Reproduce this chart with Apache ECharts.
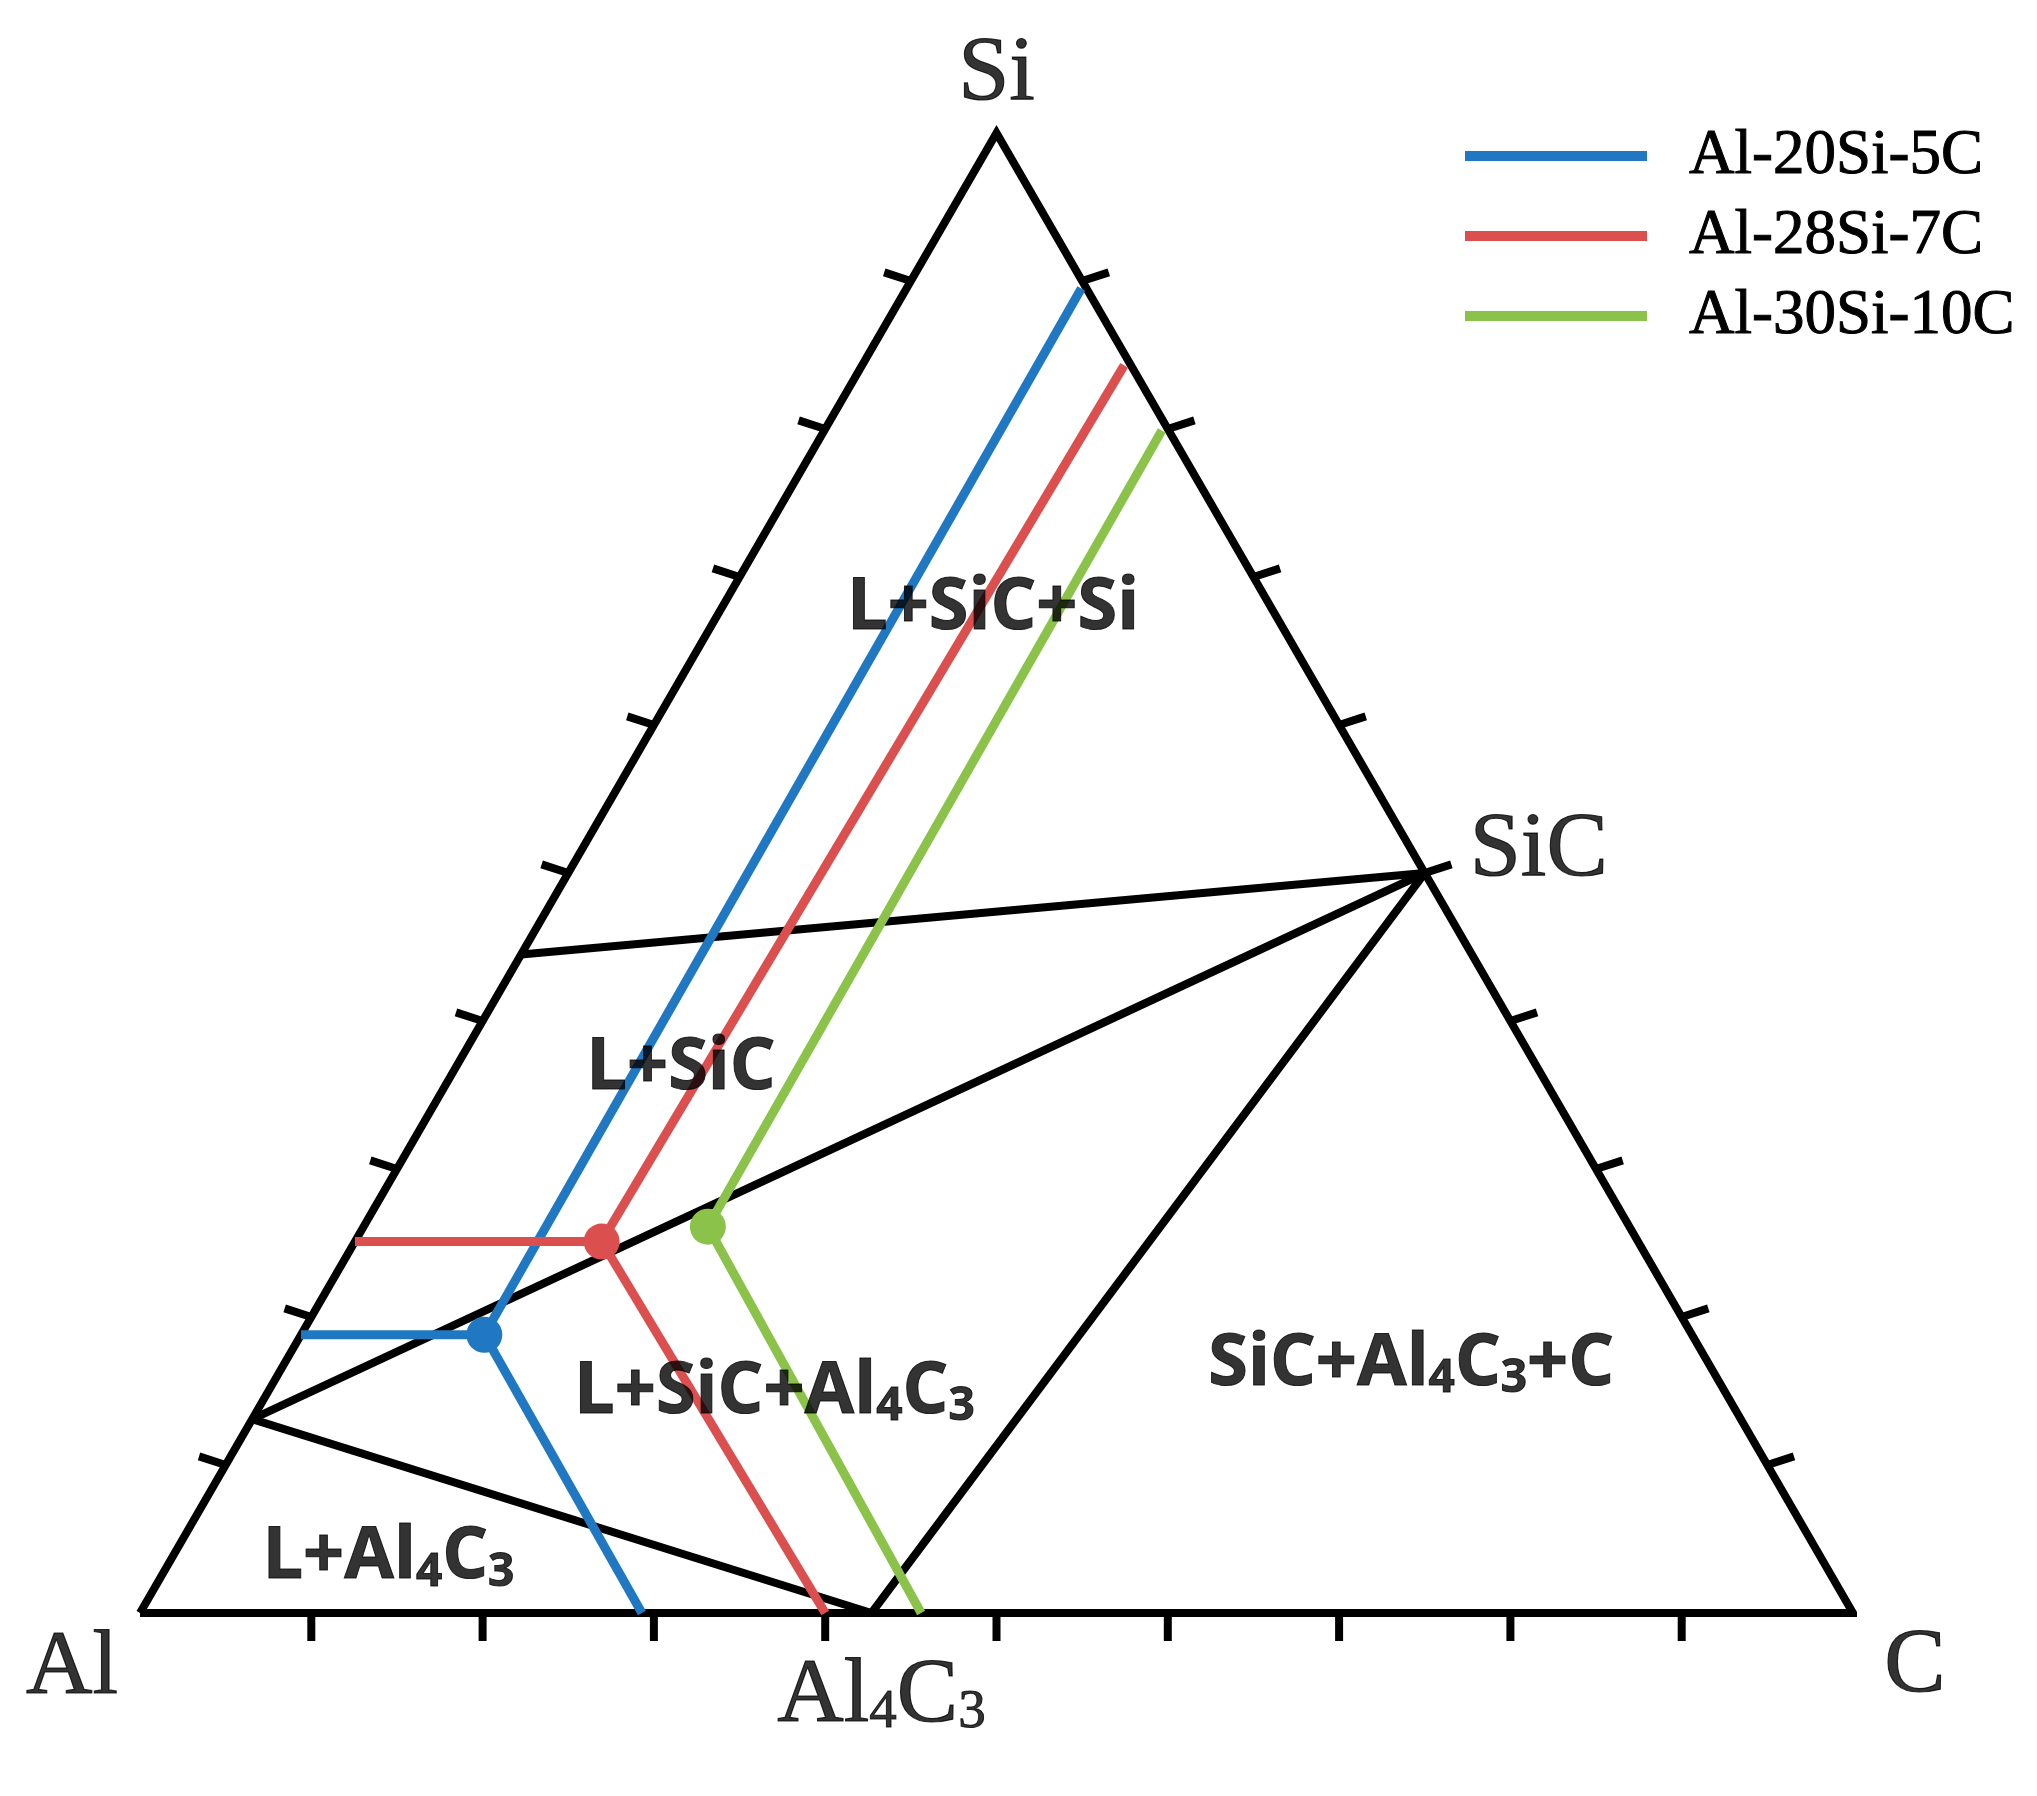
<!DOCTYPE html>
<html>
<head>
<meta charset="utf-8">
<title>Al-Si-C</title>
<script src="https://cdn.jsdelivr.net/npm/echarts@6/dist/echarts.min.js"></script>
<style>
  html, body { margin: 0; padding: 0; background: #fff; }
  #chart { width: 2037px; height: 1796px; }
</style>
</head>
<body>
<div id="chart"></div>
<script>
// every composition is [C, Si] as mole fraction, Al = 1 - C - Si
const vertexNames = ['Al', 'C', 'Si'];
const vertexComps = [[0, 0], [1, 0], [0, 1]];
const compoundNames = ['SiC', 'Al4C3'];
const compoundComps = [[0.5, 0.5], [0.427, 0]];

// phase boundary lines
const tieLines = [
  [[0, 0.445], [0.5, 0.5]],
  [[0, 0.131], [0.5, 0.5]],
  [[0, 0.131], [0.427, 0]],
  [[0.5, 0.5], [0.427, 0]]
];

const alloyNames = ['Al-20Si-5C', 'Al-28Si-7C', 'Al-30Si-10C'];
const alloyColors = ['#1f78c1', '#dc4f4f', '#8bc34a'];
// Si-C edge -> point on the L+SiC / L+SiC+Al4C3 boundary -> Al-C edge
const alloyPaths = [
  [[0.102, 0.895], [0.107, 0.188], [0.293, 0]],
  [[0.153, 0.843], [0.144, 0.251], [0.400, 0]],
  [[0.197, 0.799], [0.201, 0.261], [0.456, 0]]
];
// branch from that point back to the Al-Si edge
const alloyBranches = [
  [[0.107, 0.188], [0, 0.188]],
  [[0.144, 0.251], [0, 0.251]],
  null
];

const regionNames = ['L+SiC+Si', 'L+SiC', 'L+SiC+Al4C3', 'L+Al4C3', 'SiC+Al4C3+C'];
const regionAnchors = [[0.1585, 0.679], [0.132, 0.3676], [0.2957, 0.1493], [0.1264, 0.0372], [0.658, 0.1682]];

const tickFractions = [0.1, 0.2, 0.3, 0.4, 0.5, 0.6, 0.7, 0.8, 0.9];

// ---- helpers ----
const H = Math.sqrt(3) / 2;
const toXY = c => [c[0] + c[1] / 2, c[1] * H];

// digits become small (Al4C3)
function chem(name) {
  return name.split(/(\d)/).filter(Boolean)
    .map(t => /\d/.test(t) ? '{s|' + t + '}' : '{b|' + t + '}').join('');
}

const serif = 'Liberation Serif';
const sans = 'Open Sans';

// small digits sit on the baseline: line box kept tight so 'bottom' lines up
const vertexRich = {
  b: { fontFamily: serif, fontSize: 92, lineHeight: 86, color: '#000', textBorderColor: '#000', textBorderWidth: 1.2 },
  s: { fontFamily: serif, fontSize: 55, color: '#000', verticalAlign: 'bottom', textBorderColor: '#000', textBorderWidth: 1 }
};
const regionRich = {
  b: { fontFamily: sans, fontWeight: 'bold', fontSize: 72, lineHeight: 76, color: '#000', textBorderColor: '#000', textBorderWidth: 1 },
  s: { fontFamily: sans, fontWeight: 'bold', fontSize: 46, color: '#000', verticalAlign: 'bottom', textBorderColor: '#000', textBorderWidth: 1 }
};

// label offsets (px) from the point they name
const labelOffsets = {
  Al: [-68, 56], C: [62, 54], Si: [0, -58], SiC: [114, -22], Al4C3: [10, 84]
};

// ---- ticks: 10 % marks on each edge ----
const a = 18 * Math.PI / 180;
const tickData = [];
tickFractions.forEach(f => {
  tickData.push(toXY([f, 0]).concat([0, 1]));                          // Al-C edge
  tickData.push(toXY([0, f]).concat([-Math.cos(a), -Math.sin(a)]));    // Al-Si edge
  tickData.push(toXY([f, 1 - f]).concat([Math.cos(a), -Math.sin(a)])); // Si-C edge
});

const series = [];

// triangle
series.push({
  type: 'line', silent: true, clip: false, symbol: 'none', z: 3,
  data: [vertexComps[0], vertexComps[1], vertexComps[2], vertexComps[0]].map(toXY),
  lineStyle: { color: '#000', width: 8, join: 'miter' }
});

series.push({
  type: 'custom', silent: true, clip: false, z: 3,
  data: tickData,
  encode: { x: 0, y: 1 },
  renderItem: function (params, api) {
    const p = api.coord([api.value(0), api.value(1)]);
    const len = 28;
    return {
      type: 'line',
      shape: { x1: p[0], y1: p[1], x2: p[0] + api.value(2) * len, y2: p[1] + api.value(3) * len },
      style: { stroke: '#000', lineWidth: 8 }
    };
  }
});

tieLines.forEach(seg => {
  series.push({
    type: 'line', silent: true, clip: false, symbol: 'none', z: 2,
    data: seg.map(toXY),
    lineStyle: { color: '#000', width: 8 }
  });
});

alloyNames.forEach((name, i) => {
  series.push({
    name: name, type: 'line', clip: false, z: 4,
    data: alloyPaths[i].map(toXY),
    symbol: 'circle', showSymbol: true, showAllSymbol: true,
    symbolSize: (v, p) => (p.dataIndex === 1 ? 36 : 0),
    itemStyle: { color: alloyColors[i] },
    lineStyle: { color: alloyColors[i], width: 9 }
  });
  if (alloyBranches[i]) {
    series.push({
      name: name, type: 'line', clip: false, z: 4, symbol: 'none',
      data: alloyBranches[i].map(toXY),
      itemStyle: { color: alloyColors[i] },
      lineStyle: { color: alloyColors[i], width: 9 }
    });
  }
});

const labelBase = {
  show: true, position: 'inside', align: 'center', verticalAlign: 'middle',
  color: '#000', formatter: p => chem(p.name)
};

// region names
series.push({
  type: 'scatter', silent: true, z: 6, symbolSize: 1,
  itemStyle: { color: 'transparent' },
  data: regionNames.map((n, i) => ({ name: n, value: toXY(regionAnchors[i]) })),
  label: Object.assign({}, labelBase, { rich: regionRich })
});

// corner and compound names
const pointNames = vertexNames.concat(compoundNames);
const pointComps = vertexComps.concat(compoundComps);
series.push({
  type: 'scatter', silent: true, z: 6, symbolSize: 1,
  itemStyle: { color: 'transparent' },
  data: pointNames.map((n, i) => ({
    name: n, value: toXY(pointComps[i]),
    label: { offset: labelOffsets[n] }
  })),
  label: Object.assign({}, labelBase, { rich: vertexRich })
});

const chart = echarts.init(document.getElementById('chart'));
chart.setOption({
  animation: false,
  backgroundColor: '#fff',
  grid: { left: 140, right: 184, top: 133, bottom: 183 },
  xAxis: { type: 'value', min: 0, max: 1, show: false },
  yAxis: { type: 'value', min: 0, max: H, show: false },
  legend: {
    data: alloyNames,
    orient: 'vertical',
    left: 1465, top: 124,
    padding: 0,
    icon: 'rect',
    itemWidth: 182, itemHeight: 10, itemGap: 16,
    selectedMode: false,
    textStyle: {
      fontFamily: serif, fontSize: 63, lineHeight: 62, color: '#000',
      textBorderColor: '#000', textBorderWidth: 1, padding: [0, 0, 0, 37]
    }
  },
  series: series
});
</script>
</body>
</html>
